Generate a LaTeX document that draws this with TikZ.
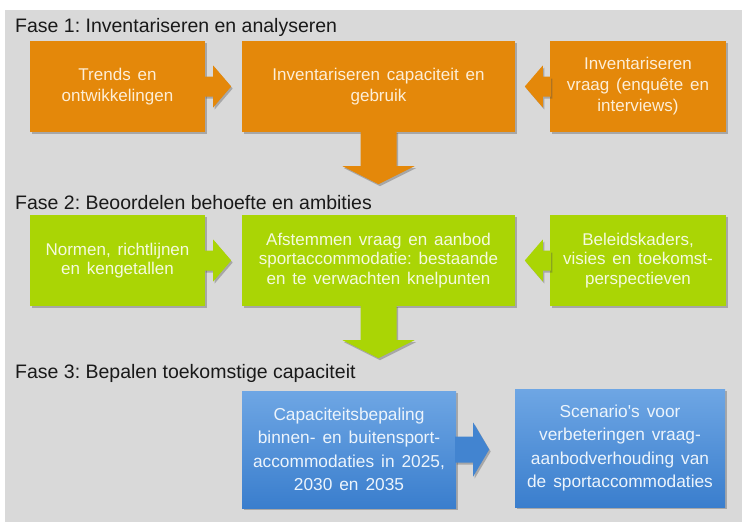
\documentclass[tikz,border=0pt]{standalone}
\usepackage{fontspec}
\setmainfont{Liberation Sans}
\newfontfamily\boxfont[WordSpace=1.45]{Liberation Sans}
\usetikzlibrary{calc,shadows}
\frenchspacing
\definecolor{bgc}{RGB}{217,217,217}
\definecolor{orng}{RGB}{228,136,10}
\definecolor{grn}{RGB}{170,213,5}
\definecolor{bluetop}{RGB}{110,166,228}
\definecolor{bluebot}{RGB}{58,126,205}
\definecolor{txto}{RGB}{253,238,215}
\definecolor{txtg}{RGB}{245,250,222}
\definecolor{txtb}{RGB}{236,244,252}
\definecolor{ttl}{RGB}{25,25,25}
\begin{document}
\begin{tikzpicture}[x=1pt,y=-1pt,
  shd/.style={drop shadow={shadow xshift=1.5pt,shadow yshift=-2pt,opacity=0.35,fill=black!70}},
  box/.style={shd,inner sep=0pt,align=center,font=\frenchspacing\boxfont\fontsize{17}{21}\selectfont},
  obox/.style={box,fill=orng,text=txto},
  gbox/.style={box,fill=grn,text=txtg,font=\frenchspacing\boxfont\fontsize{17}{19.5}\selectfont},
  bbox/.style={box,top color=bluetop,bottom color=bluebot,text=txtb,font=\frenchspacing\boxfont\fontsize{17.3}{23.5}\selectfont},
  title/.style={anchor=base west,inner sep=0pt,text=ttl,font=\frenchspacing\fontsize{19.5}{22}\selectfont},
  oarr/.style={shd,fill=orng},
  garr/.style={shd,fill=grn},
  barr/.style={shd,fill=bluebot!85!bluetop}]
\useasboundingbox (0,0) rectangle (742,522);
\fill[white] (0,0) rectangle (742,522);
\fill[bgc] (5,10) rectangle (742,522);

% titles
\node[title] (f1) at (15,32) {Fase 1: Inventariseren en analyseren};
\node[title] (f2) at (15,209) {Fase 2: Beoordelen behoefte en ambities};
\node[title] (f3) at (15,378) {Fase 3: Bepalen toekomstige capaciteit};

% row 1
\node[obox,minimum width=175pt,minimum height=91pt] (t1) at (117.5,86.5) {Trends en\\ontwikkelingen};
\node[obox,minimum width=273pt,minimum height=91pt] (c1) at (378.5,86.5) {Inventariseren capaciteit en\\gebruik};
\node[obox,minimum width=176pt,minimum height=91pt] (r1) at (638,86.5) {Inventariseren\\vraag (enquête en\\interviews)};

% row 2
\node[gbox,minimum width=175pt,minimum height=91pt] (t2) at (117.5,260.5) {Normen, richtlijnen\\en kengetallen};
\node[gbox,minimum width=273pt,minimum height=91pt] (c2) at (378.5,260.5) {Afstemmen vraag en aanbod\\sportaccommodatie: bestaande\\en te verwachten knelpunten};
\node[gbox,minimum width=176pt,minimum height=91pt] (r2) at (638,260.5) {Beleidskaders,\\visies en toekomst-\\perspectieven};

% row 3
\node[bbox,minimum width=214pt,minimum height=117pt] (b1) at (349,449.5) {Capaciteitsbepaling\\binnen- en buitensport-\\accommodaties in 2025,\\2030 en 2035};
\node[bbox,minimum width=210pt,minimum height=118pt] (b2) at (620,448) {Scenario's voor\\verbeteringen vraag-\\aanbodverhouding van\\de sportaccommodaties};

% arrows row 1
\fill[oarr] ($(t1.east)+(-1,-10)$) -- ++(9,0) -- ++(0,-11) -- ++(18,21) -- ++(-18,21) -- ++(0,-11) -- ++(-9,0) -- cycle;
\fill[oarr] ($(r1.west)+(1,-10)$) -- ++(-8,0) -- ++(0,-11) -- ++(-18,21) -- ++(18,21) -- ++(0,-11) -- ++(8,0) -- cycle;
\fill[oarr] ($(c1.south)+(-18,-1)$) -- ++(36,0) -- ++(0,35) -- ++(18,0) -- ++(-36,18) -- ++(-36,-18) -- ++(18,0) -- cycle;

% arrows row 2
\fill[garr] ($(t2.east)+(-1,-10)$) -- ++(9,0) -- ++(0,-11) -- ++(18,21) -- ++(-18,21) -- ++(0,-11) -- ++(-9,0) -- cycle;
\fill[garr] ($(r2.west)+(1,-10)$) -- ++(-8,0) -- ++(0,-11) -- ++(-18,21) -- ++(18,21) -- ++(0,-11) -- ++(8,0) -- cycle;
\fill[garr] ($(c2.south)+(-18,-1)$) -- ++(36,0) -- ++(0,35) -- ++(18,0) -- ++(-36,18) -- ++(-36,-18) -- ++(18,0) -- cycle;

% arrow row 3
\fill[barr] ($(b1.east)+(-1,-13)$) -- ++(18,0) -- ++(0,-14) -- ++(16,27) -- ++(-16,27) -- ++(0,-14) -- ++(-18,0) -- cycle;
\end{tikzpicture}
\end{document}
